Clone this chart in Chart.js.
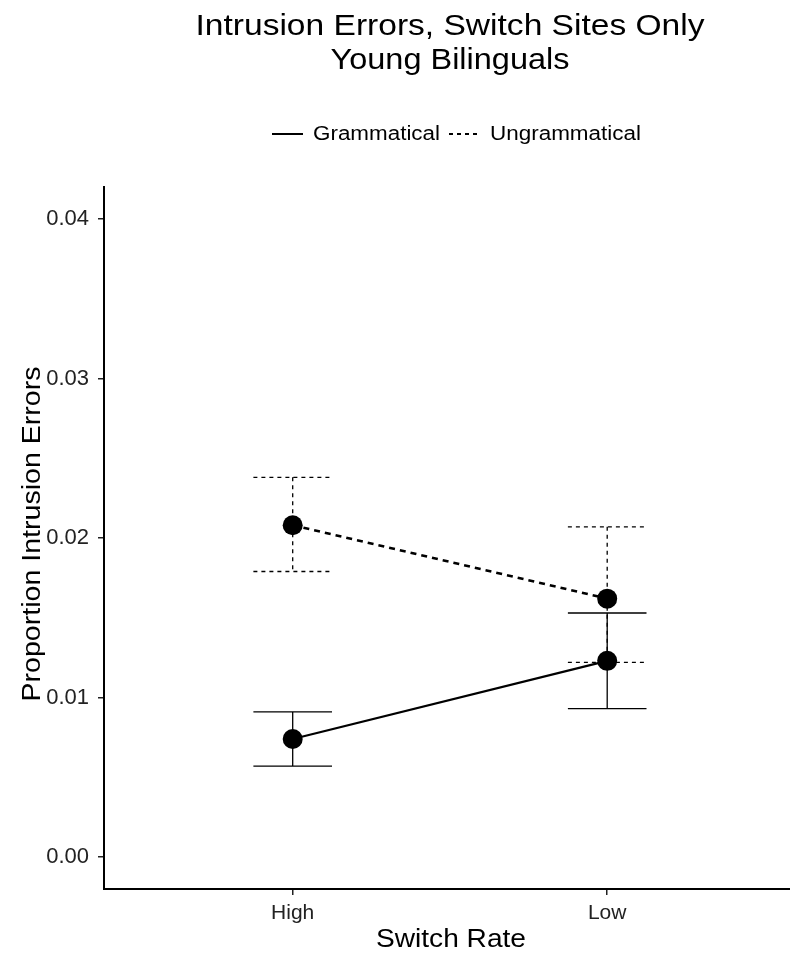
<!DOCTYPE html>
<html lang="en">
<head>
  <meta charset="UTF-8">
  <title>Intrusion Errors, Switch Sites Only</title>
  <script src="https://cdn.jsdelivr.net/npm/chart.js"></script>
  <style>
    * { box-sizing: border-box; margin: 0; padding: 0; }
    body { background: #fff; overflow: hidden; }
    .wrap { width: 790px; height: 959px; position: relative; }
  </style>
</head>
<body>
  <div class="wrap"><canvas id="chart"></canvas></div>
  <script>
    // data
    const categories = ['High', 'Low'];
    const seriesNames = ['Grammatical', 'Ungrammatical'];
    const grammatical = [0.0074, 0.0123];
    const grammaticalLow = [0.0057, 0.0093];
    const grammaticalHigh = [0.0091, 0.0153];
    const ungrammatical = [0.0208, 0.0162];
    const ungrammaticalLow = [0.0179, 0.0122];
    const ungrammaticalHigh = [0.0238, 0.0207];
    const yTicks = [0, 0.01, 0.02, 0.03, 0.04];

    const FONT = "'Liberation Sans', Arial, Helvetica, sans-serif";

    const toPoints = vals => vals.map((v, i) => ({ x: i + 1, y: v }));

    // text drawn a little wider than Arial, like the reference's Helvetica
    function wideText(ctx, str, x, y, size, width, align) {
      ctx.save();
      ctx.font = size + 'px ' + FONT;
      const w = ctx.measureText(str).width;
      const k = width / w;
      ctx.translate(x, y);
      ctx.scale(k, 1);
      ctx.textAlign = align || 'center';
      ctx.textBaseline = 'middle';
      ctx.fillText(str, 0, 0);
      ctx.restore();
      return width;
    }

    const errorBars = {
      id: 'errorBars',
      beforeDatasetsDraw(chart) {
        const { ctx, scales: { x, y } } = chart;
        const sets = [
          { lo: grammaticalLow, hi: grammaticalHigh, dash: [] },
          { lo: ungrammaticalLow, hi: ungrammaticalHigh, dash: [4, 4] }
        ];
        const half = 0.125;
        ctx.save();
        ctx.strokeStyle = '#000';
        ctx.lineWidth = 1.3;
        sets.forEach(s => {
          ctx.setLineDash(s.dash);
          s.lo.forEach((lo, i) => {
            const cx = x.getPixelForValue(i + 1);
            const x0 = x.getPixelForValue(i + 1 - half);
            const x1 = x.getPixelForValue(i + 1 + half);
            const yl = y.getPixelForValue(lo);
            const yh = y.getPixelForValue(s.hi[i]);
            ctx.beginPath();
            ctx.moveTo(x0, yh); ctx.lineTo(x1, yh);
            ctx.moveTo(cx, yh); ctx.lineTo(cx, yl);
            ctx.moveTo(x0, yl); ctx.lineTo(x1, yl);
            ctx.stroke();
          });
        });
        ctx.restore();
      }
    };

    const texts = {
      id: 'texts',
      afterDraw(chart) {
        const ctx = chart.ctx;
        ctx.save();
        ctx.fillStyle = '#000';
        wideText(ctx, 'Intrusion Errors, Switch Sites Only', 450, 27, 29, 509);
        wideText(ctx, 'Young Bilinguals', 450, 61, 29, 239);

        // legend
        const ly = 134;
        ctx.strokeStyle = '#000';
        ctx.lineWidth = 2;
        ctx.beginPath(); ctx.moveTo(272, ly); ctx.lineTo(303, ly); ctx.stroke();
        wideText(ctx, seriesNames[0], 313, ly, 20, 127, 'left');
        ctx.setLineDash([4, 4]);
        ctx.beginPath(); ctx.moveTo(449, ly); ctx.lineTo(481, ly); ctx.stroke();
        ctx.setLineDash([]);
        wideText(ctx, seriesNames[1], 490, ly, 20, 151, 'left');

        // axis titles
        wideText(ctx, 'Switch Rate', 451, 940, 26, 150);
        ctx.translate(33, 534);
        ctx.rotate(-Math.PI / 2);
        wideText(ctx, 'Proportion Intrusion Errors', 0, 0, 26, 335);
        ctx.restore();
      }
    };

    new Chart(document.getElementById('chart'), {
      type: 'line',
      data: {
        datasets: [
          {
            label: seriesNames[0], data: toPoints(grammatical),
            borderColor: '#000', borderWidth: 2.2,
            pointRadius: 10, pointBackgroundColor: '#000', pointBorderWidth: 0
          },
          {
            label: seriesNames[1], data: toPoints(ungrammatical),
            borderColor: '#000', borderWidth: 2.6, borderDash: [6, 5],
            pointRadius: 10, pointBackgroundColor: '#000', pointBorderWidth: 0
          }
        ]
      },
      options: {
        responsive: true,
        maintainAspectRatio: false,
        animation: false,
        layout: { autoPadding: false, padding: { top: 187, left: 0, right: 0, bottom: 0 } },
        plugins: { legend: { display: false }, tooltip: { enabled: false } },
        scales: {
          x: {
            type: 'linear', min: 0.4, max: 0.4 + 686 / 314.5,
            afterFit: s => { s.height = 70; s.paddingLeft = 0; s.paddingRight = 0; },
            afterBuildTicks: s => { s.ticks = categories.map((c, i) => ({ value: i + 1 })); },
            ticks: {
              callback: v => categories[v - 1],
              font: { family: FONT, size: 21 }, color: '#222', padding: 6
            },
            grid: { drawOnChartArea: false, tickLength: 6, color: '#222', lineWidth: 1.5 },
            border: { color: '#000', width: 2 }
          },
          y: {
            min: -0.002, max: 0.042,
            afterFit: s => { s.width = 104; s.paddingTop = 0; s.paddingBottom = 0; },
            afterBuildTicks: s => { s.ticks = yTicks.map(v => ({ value: v })); },
            ticks: {
              callback: v => v.toFixed(2),
              font: { family: FONT, size: 22 }, color: '#222', padding: 9
            },
            grid: { drawOnChartArea: false, tickLength: 6, color: '#222', lineWidth: 1.5 },
            border: { color: '#000', width: 2 }
          }
        }
      },
      plugins: [errorBars, texts]
    });
  </script>
</body>
</html>
